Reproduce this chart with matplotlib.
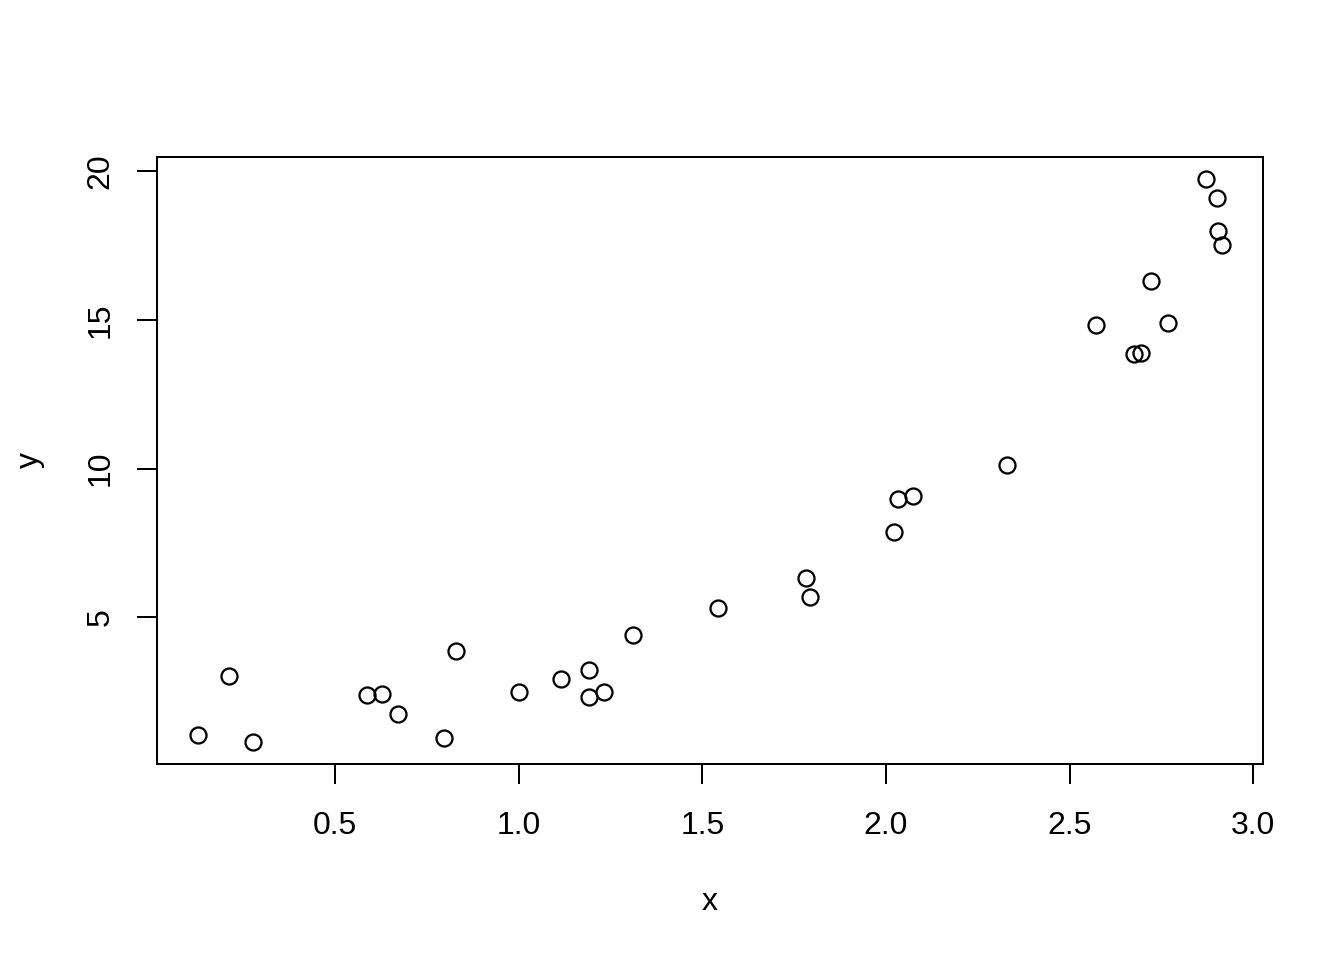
import matplotlib
matplotlib.use("Agg")
import matplotlib.pyplot as plt

x = [0.127, 0.211, 0.276, 0.587, 0.628, 0.672, 0.797, 0.830, 1.001, 1.116,
     1.192, 1.192, 1.233, 1.312, 1.544, 1.781, 1.792, 2.021, 2.034, 2.073,
     2.329, 2.571, 2.675, 2.694, 2.721, 2.768, 2.871, 2.901, 2.904, 2.915]
y = [1.05, 3.04, 0.82, 2.37, 2.43, 1.76, 0.95, 3.88, 2.50, 2.94,
     3.24, 2.33, 2.50, 4.39, 5.30, 6.31, 5.67, 7.86, 8.98, 9.08,
     10.12, 14.84, 13.86, 13.90, 16.33, 14.91, 19.73, 19.12, 17.98, 17.51]
xticks = [0.5, 1.0, 1.5, 2.0, 2.5, 3.0]
yticks = [5, 10, 15, 20]

plt.rcParams['font.family'] = ['Liberation Sans', 'DejaVu Sans']
fig = plt.figure(figsize=(7, 5), dpi=192)
ax = fig.add_axes([157/1344, 1 - 764/960, (1263-157)/1344, (764-157)/960])
ax.plot(x, y, linestyle='none', marker='o', markersize=6.0,
        markerfacecolor='none', markeredgecolor='black', markeredgewidth=0.85)

xr = max(x) - min(x)
yr = max(y) - min(y)
ax.set_xlim(min(x) - 0.04*xr, max(x) + 0.04*xr)
ax.set_ylim(min(y) - 0.04*yr, max(y) + 0.04*yr)
ax.set_xticks(xticks)
ax.set_xticklabels(['0.5', '1.0', '1.5', '2.0', '2.5', '3.0'])
ax.set_yticks(yticks)
ax.set_yticklabels([str(v) for v in yticks], rotation=90, va='center')
ax.tick_params(direction='out', length=7.5, width=0.75, labelsize=12)
ax.tick_params(axis='x', pad=10)
ax.tick_params(axis='y', pad=8)
for s in ax.spines.values():
    s.set_linewidth(0.75)
ax.set_xlabel('x', fontsize=12)
ax.set_ylabel('y', fontsize=12)
ax.xaxis.set_label_coords(0.5, -(902 - 764) / 607)
ax.xaxis.label.set_va('center')
ax.yaxis.set_label_coords(-(157 - 30) / 1106, 0.5)
ax.yaxis.label.set_va('center')
fig.savefig('out.png', dpi=192)
